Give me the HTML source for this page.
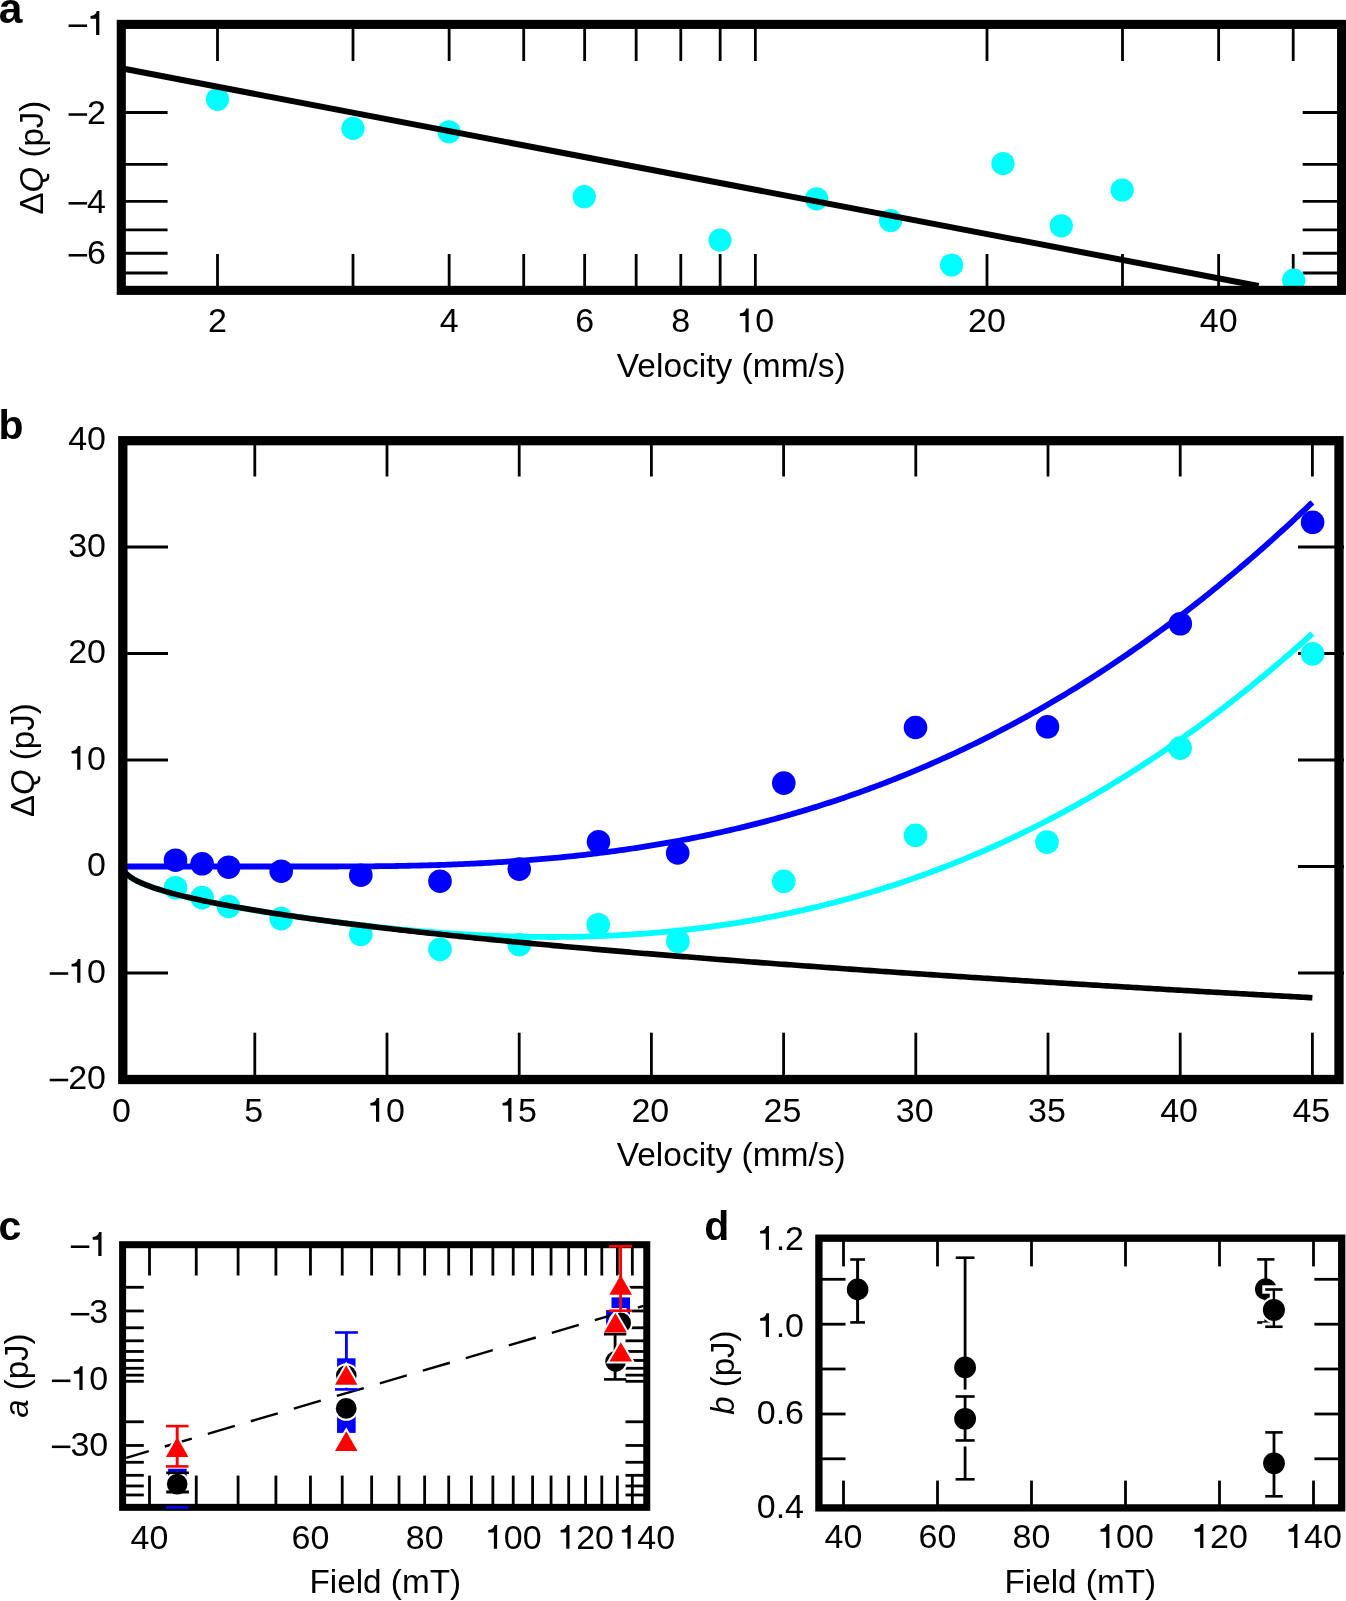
<!DOCTYPE html>
<html><head><meta charset="utf-8"><style>
html,body{margin:0;padding:0;background:#fff;}
svg{display:block;}
text{font-family:"Liberation Sans",sans-serif;fill:#000;filter:grayscale(1);}
</style></head><body>
<svg width="1346" height="1601" viewBox="0 0 1346 1601">
<rect width="1346" height="1601" fill="#fff"/>
<line x1="217.5" y1="24.4" x2="217.5" y2="61" stroke="#000" stroke-width="2.8"/>
<line x1="217.5" y1="254" x2="217.5" y2="290.35" stroke="#000" stroke-width="2.8"/>
<line x1="353" y1="24.4" x2="353" y2="61" stroke="#000" stroke-width="2.8"/>
<line x1="353" y1="254" x2="353" y2="290.35" stroke="#000" stroke-width="2.8"/>
<line x1="449.14" y1="24.4" x2="449.14" y2="61" stroke="#000" stroke-width="2.8"/>
<line x1="449.14" y1="254" x2="449.14" y2="290.35" stroke="#000" stroke-width="2.8"/>
<line x1="523.71" y1="24.4" x2="523.71" y2="61" stroke="#000" stroke-width="2.8"/>
<line x1="523.71" y1="254" x2="523.71" y2="290.35" stroke="#000" stroke-width="2.8"/>
<line x1="584.64" y1="24.4" x2="584.64" y2="61" stroke="#000" stroke-width="2.8"/>
<line x1="584.64" y1="254" x2="584.64" y2="290.35" stroke="#000" stroke-width="2.8"/>
<line x1="636.16" y1="24.4" x2="636.16" y2="61" stroke="#000" stroke-width="2.8"/>
<line x1="636.16" y1="254" x2="636.16" y2="290.35" stroke="#000" stroke-width="2.8"/>
<line x1="680.79" y1="24.4" x2="680.79" y2="61" stroke="#000" stroke-width="2.8"/>
<line x1="680.79" y1="254" x2="680.79" y2="290.35" stroke="#000" stroke-width="2.8"/>
<line x1="720.15" y1="24.4" x2="720.15" y2="61" stroke="#000" stroke-width="2.8"/>
<line x1="720.15" y1="254" x2="720.15" y2="290.35" stroke="#000" stroke-width="2.8"/>
<line x1="755.36" y1="24.4" x2="755.36" y2="61" stroke="#000" stroke-width="2.8"/>
<line x1="755.36" y1="254" x2="755.36" y2="290.35" stroke="#000" stroke-width="2.8"/>
<line x1="987" y1="24.4" x2="987" y2="61" stroke="#000" stroke-width="2.8"/>
<line x1="987" y1="254" x2="987" y2="290.35" stroke="#000" stroke-width="2.8"/>
<line x1="1122.5" y1="24.4" x2="1122.5" y2="61" stroke="#000" stroke-width="2.8"/>
<line x1="1122.5" y1="254" x2="1122.5" y2="290.35" stroke="#000" stroke-width="2.8"/>
<line x1="1218.64" y1="24.4" x2="1218.64" y2="61" stroke="#000" stroke-width="2.8"/>
<line x1="1218.64" y1="254" x2="1218.64" y2="290.35" stroke="#000" stroke-width="2.8"/>
<line x1="1293.21" y1="24.4" x2="1293.21" y2="61" stroke="#000" stroke-width="2.8"/>
<line x1="1293.21" y1="254" x2="1293.21" y2="290.35" stroke="#000" stroke-width="2.8"/>
<line x1="121.3" y1="112.5" x2="167.6" y2="112.5" stroke="#000" stroke-width="2.8"/>
<line x1="1302.7" y1="112.5" x2="1341.6" y2="112.5" stroke="#000" stroke-width="2.8"/>
<line x1="121.3" y1="164.45" x2="167.6" y2="164.45" stroke="#000" stroke-width="2.8"/>
<line x1="1302.7" y1="164.45" x2="1341.6" y2="164.45" stroke="#000" stroke-width="2.8"/>
<line x1="121.3" y1="201.3" x2="167.6" y2="201.3" stroke="#000" stroke-width="2.8"/>
<line x1="1302.7" y1="201.3" x2="1341.6" y2="201.3" stroke="#000" stroke-width="2.8"/>
<line x1="121.3" y1="229.89" x2="167.6" y2="229.89" stroke="#000" stroke-width="2.8"/>
<line x1="1302.7" y1="229.89" x2="1341.6" y2="229.89" stroke="#000" stroke-width="2.8"/>
<line x1="121.3" y1="253.25" x2="167.6" y2="253.25" stroke="#000" stroke-width="2.8"/>
<line x1="1302.7" y1="253.25" x2="1341.6" y2="253.25" stroke="#000" stroke-width="2.8"/>
<line x1="121.3" y1="273" x2="167.6" y2="273" stroke="#000" stroke-width="2.8"/>
<line x1="1302.7" y1="273" x2="1341.6" y2="273" stroke="#000" stroke-width="2.8"/>
<circle cx="217.5" cy="99.3" r="11.6" fill="#00ffff"/>
<circle cx="353" cy="128.4" r="11.6" fill="#00ffff"/>
<circle cx="449" cy="131.8" r="11.6" fill="#00ffff"/>
<circle cx="584.3" cy="196.7" r="11.6" fill="#00ffff"/>
<circle cx="720" cy="240.1" r="11.6" fill="#00ffff"/>
<circle cx="816.6" cy="198.8" r="11.6" fill="#00ffff"/>
<circle cx="890.6" cy="220.6" r="11.6" fill="#00ffff"/>
<circle cx="951.6" cy="265" r="11.6" fill="#00ffff"/>
<circle cx="1003" cy="163.5" r="11.6" fill="#00ffff"/>
<circle cx="1061.3" cy="225.8" r="11.6" fill="#00ffff"/>
<circle cx="1122.2" cy="190" r="11.6" fill="#00ffff"/>
<circle cx="1293.7" cy="280.2" r="11.6" fill="#00ffff"/>
<line x1="121.3" y1="68.3" x2="1258.6" y2="286" stroke="#000" stroke-width="6"/>
<rect x="121.3" y="24.4" width="1220.3" height="265.95" fill="none" stroke="#000" stroke-width="9.1"/>
<rect x="68.6" y="24.44" width="18.5" height="2.55" fill="#000"/>
<path d="M0.265 0L0.36 0L0.36 0.70L0.285 0.70C0.265 0.62 0.21 0.556 0.10 0.553L0.10 0.476L0.265 0.476Z" transform="translate(87.09 34.9) scale(34 -34)" fill="#000"/>
<rect x="68.6" y="113.25" width="18.5" height="2.55" fill="#000"/>
<text x="87.09" y="123.7" font-size="34">2</text>
<rect x="68.6" y="202.05" width="18.5" height="2.55" fill="#000"/>
<text x="87.09" y="212.5" font-size="34">4</text>
<rect x="68.6" y="254" width="18.5" height="2.55" fill="#000"/>
<text x="87.09" y="264.45" font-size="34">6</text>
<text x="208.05" y="332.3" font-size="34">2</text>
<text x="439.69" y="332.3" font-size="34">4</text>
<text x="575.19" y="332.3" font-size="34">6</text>
<text x="671.33" y="332.3" font-size="34">8</text>
<path d="M0.265 0L0.36 0L0.36 0.70L0.285 0.70C0.265 0.62 0.21 0.556 0.10 0.553L0.10 0.476L0.265 0.476Z" transform="translate(736.45 332.3) scale(34 -34)" fill="#000"/>
<text x="755.36" y="332.3" font-size="34">0</text>
<text x="968.09" y="332.3" font-size="34">20</text>
<text x="1199.73" y="332.3" font-size="34">40</text>
<text x="731.3" y="377.2" font-size="33.5" text-anchor="middle">Velocity (mm/s)</text>
<text transform="translate(43,157.6) rotate(-90)" font-size="33" text-anchor="middle">Δ<tspan font-style="italic">Q</tspan> (pJ)</text>
<text x="-1.3" y="22.7" font-size="42.5" font-weight="bold">a</text>
<line x1="254.8" y1="440.7" x2="254.8" y2="476.5" stroke="#000" stroke-width="2.8"/>
<line x1="254.8" y1="1032.7" x2="254.8" y2="1079.5" stroke="#000" stroke-width="2.8"/>
<line x1="387" y1="440.7" x2="387" y2="476.5" stroke="#000" stroke-width="2.8"/>
<line x1="387" y1="1032.7" x2="387" y2="1079.5" stroke="#000" stroke-width="2.8"/>
<line x1="519.2" y1="440.7" x2="519.2" y2="476.5" stroke="#000" stroke-width="2.8"/>
<line x1="519.2" y1="1032.7" x2="519.2" y2="1079.5" stroke="#000" stroke-width="2.8"/>
<line x1="651.4" y1="440.7" x2="651.4" y2="476.5" stroke="#000" stroke-width="2.8"/>
<line x1="651.4" y1="1032.7" x2="651.4" y2="1079.5" stroke="#000" stroke-width="2.8"/>
<line x1="783.6" y1="440.7" x2="783.6" y2="476.5" stroke="#000" stroke-width="2.8"/>
<line x1="783.6" y1="1032.7" x2="783.6" y2="1079.5" stroke="#000" stroke-width="2.8"/>
<line x1="915.8" y1="440.7" x2="915.8" y2="476.5" stroke="#000" stroke-width="2.8"/>
<line x1="915.8" y1="1032.7" x2="915.8" y2="1079.5" stroke="#000" stroke-width="2.8"/>
<line x1="1048" y1="440.7" x2="1048" y2="476.5" stroke="#000" stroke-width="2.8"/>
<line x1="1048" y1="1032.7" x2="1048" y2="1079.5" stroke="#000" stroke-width="2.8"/>
<line x1="1180.2" y1="440.7" x2="1180.2" y2="476.5" stroke="#000" stroke-width="2.8"/>
<line x1="1180.2" y1="1032.7" x2="1180.2" y2="1079.5" stroke="#000" stroke-width="2.8"/>
<line x1="1312.4" y1="440.7" x2="1312.4" y2="476.5" stroke="#000" stroke-width="2.8"/>
<line x1="1312.4" y1="1032.7" x2="1312.4" y2="1079.5" stroke="#000" stroke-width="2.8"/>
<line x1="122.8" y1="547" x2="168" y2="547" stroke="#000" stroke-width="2.8"/>
<line x1="1298" y1="547" x2="1344" y2="547" stroke="#000" stroke-width="2.8"/>
<line x1="122.8" y1="653.5" x2="168" y2="653.5" stroke="#000" stroke-width="2.8"/>
<line x1="1298" y1="653.5" x2="1344" y2="653.5" stroke="#000" stroke-width="2.8"/>
<line x1="122.8" y1="760" x2="168" y2="760" stroke="#000" stroke-width="2.8"/>
<line x1="1298" y1="760" x2="1344" y2="760" stroke="#000" stroke-width="2.8"/>
<line x1="122.8" y1="866.5" x2="168" y2="866.5" stroke="#000" stroke-width="2.8"/>
<line x1="1298" y1="866.5" x2="1344" y2="866.5" stroke="#000" stroke-width="2.8"/>
<line x1="122.8" y1="973" x2="168" y2="973" stroke="#000" stroke-width="2.8"/>
<line x1="1298" y1="973" x2="1344" y2="973" stroke="#000" stroke-width="2.8"/>
<path d="M122.6 866.5 L125.58 873.07 L128.56 875.79 L131.55 877.88 L134.53 879.64 L137.51 881.19 L140.49 882.59 L143.47 883.88 L146.46 885.08 L149.44 886.21 L152.42 887.28 L155.4 888.29 L158.38 889.26 L161.37 890.19 L164.35 891.08 L167.33 891.95 L170.31 892.78 L173.29 893.59 L176.28 894.37 L179.26 895.14 L182.24 895.88 L185.22 896.61 L188.2 897.32 L191.18 898.01 L194.17 898.69 L197.15 899.35 L200.13 900 L203.11 900.64 L206.09 901.27 L209.08 901.88 L212.06 902.49 L215.04 903.08 L218.02 903.67 L221 904.24 L223.99 904.81 L226.97 905.37 L229.95 905.92 L232.93 906.46 L235.91 907 L238.9 907.53 L241.88 908.05 L244.86 908.57 L247.84 909.08 L250.82 909.58 L253.81 910.08 L256.79 910.57 L259.77 911.06 L262.75 911.54 L265.73 912.02 L268.72 912.49 L271.7 912.96 L274.68 913.42 L277.66 913.88 L280.64 914.33 L283.63 914.78 L286.61 915.23 L289.59 915.67 L292.57 916.1 L295.55 916.54 L298.54 916.97 L301.52 917.39 L304.5 917.81 L307.48 918.23 L310.46 918.65 L313.45 919.06 L316.43 919.47 L319.41 919.88 L322.39 920.28 L325.37 920.68 L328.35 921.07 L331.34 921.46 L334.32 921.85 L337.3 922.23 L340.28 922.61 L343.26 922.99 L346.25 923.36 L349.23 923.72 L352.21 924.09 L355.19 924.44 L358.17 924.8 L361.16 925.15 L364.14 925.49 L367.12 925.83 L370.1 926.17 L373.08 926.5 L376.07 926.83 L379.05 927.15 L382.03 927.47 L385.01 927.79 L387.99 928.1 L390.98 928.4 L393.96 928.7 L396.94 929 L399.92 929.29 L402.9 929.57 L405.89 929.86 L408.87 930.13 L411.85 930.4 L414.83 930.67 L417.81 930.93 L420.8 931.19 L423.78 931.44 L426.76 931.69 L429.74 931.93 L432.72 932.16 L435.71 932.39 L438.69 932.62 L441.67 932.84 L444.65 933.05 L447.63 933.26 L450.62 933.47 L453.6 933.67 L456.58 933.86 L459.56 934.05 L462.54 934.23 L465.52 934.41 L468.51 934.58 L471.49 934.75 L474.47 934.91 L477.45 935.06 L480.43 935.21 L483.42 935.35 L486.4 935.49 L489.38 935.62 L492.36 935.75 L495.34 935.87 L498.33 935.98 L501.31 936.09 L504.29 936.19 L507.27 936.29 L510.25 936.38 L513.24 936.46 L516.22 936.54 L519.2 936.61 L522.18 936.68 L525.16 936.74 L528.15 936.79 L531.13 936.84 L534.11 936.88 L537.09 936.91 L540.07 936.94 L543.06 936.96 L546.04 936.97 L549.02 936.98 L552 936.98 L554.98 936.98 L557.97 936.96 L560.95 936.95 L563.93 936.92 L566.91 936.89 L569.89 936.85 L572.88 936.8 L575.86 936.75 L578.84 936.69 L581.82 936.63 L584.8 936.55 L587.78 936.47 L590.77 936.39 L593.75 936.29 L596.73 936.19 L599.71 936.08 L602.69 935.97 L605.68 935.85 L608.66 935.72 L611.64 935.58 L614.62 935.43 L617.6 935.28 L620.59 935.12 L623.57 934.96 L626.55 934.78 L629.53 934.6 L632.51 934.41 L635.5 934.22 L638.48 934.01 L641.46 933.8 L644.44 933.58 L647.42 933.36 L650.41 933.12 L653.39 932.88 L656.37 932.63 L659.35 932.37 L662.33 932.11 L665.32 931.84 L668.3 931.55 L671.28 931.27 L674.26 930.97 L677.24 930.66 L680.23 930.35 L683.21 930.03 L686.19 929.7 L689.17 929.36 L692.15 929.02 L695.14 928.67 L698.12 928.3 L701.1 927.93 L704.08 927.56 L707.06 927.17 L710.05 926.77 L713.03 926.37 L716.01 925.96 L718.99 925.54 L721.97 925.11 L724.95 924.67 L727.94 924.23 L730.92 923.77 L733.9 923.31 L736.88 922.84 L739.86 922.36 L742.85 921.87 L745.83 921.37 L748.81 920.87 L751.79 920.35 L754.77 919.83 L757.76 919.3 L760.74 918.76 L763.72 918.21 L766.7 917.65 L769.68 917.08 L772.67 916.5 L775.65 915.91 L778.63 915.32 L781.61 914.71 L784.59 914.1 L787.58 913.48 L790.56 912.84 L793.54 912.2 L796.52 911.55 L799.5 910.89 L802.49 910.22 L805.47 909.54 L808.45 908.86 L811.43 908.16 L814.41 907.45 L817.4 906.74 L820.38 906.01 L823.36 905.27 L826.34 904.53 L829.32 903.78 L832.31 903.01 L835.29 902.24 L838.27 901.45 L841.25 900.66 L844.23 899.86 L847.22 899.04 L850.2 898.22 L853.18 897.39 L856.16 896.55 L859.14 895.69 L862.12 894.83 L865.11 893.96 L868.09 893.08 L871.07 892.18 L874.05 891.28 L877.03 890.37 L880.02 889.45 L883 888.51 L885.98 887.57 L888.96 886.62 L891.94 885.65 L894.93 884.68 L897.91 883.7 L900.89 882.7 L903.87 881.7 L906.85 880.68 L909.84 879.66 L912.82 878.62 L915.8 877.57 L918.78 876.52 L921.76 875.45 L924.75 874.37 L927.73 873.28 L930.71 872.18 L933.69 871.07 L936.67 869.95 L939.66 868.82 L942.64 867.68 L945.62 866.53 L948.6 865.36 L951.58 864.19 L954.57 863 L957.55 861.81 L960.53 860.6 L963.51 859.38 L966.49 858.15 L969.48 856.91 L972.46 855.66 L975.44 854.4 L978.42 853.13 L981.4 851.84 L984.38 850.55 L987.37 849.24 L990.35 847.92 L993.33 846.59 L996.31 845.25 L999.29 843.9 L1002.28 842.54 L1005.26 841.16 L1008.24 839.78 L1011.22 838.38 L1014.2 836.97 L1017.19 835.55 L1020.17 834.12 L1023.15 832.67 L1026.13 831.22 L1029.11 829.75 L1032.1 828.27 L1035.08 826.78 L1038.06 825.28 L1041.04 823.77 L1044.02 822.25 L1047.01 820.71 L1049.99 819.16 L1052.97 817.6 L1055.95 816.03 L1058.93 814.44 L1061.92 812.85 L1064.9 811.24 L1067.88 809.62 L1070.86 807.99 L1073.84 806.35 L1076.83 804.69 L1079.81 803.02 L1082.79 801.34 L1085.77 799.65 L1088.75 797.95 L1091.74 796.23 L1094.72 794.5 L1097.7 792.76 L1100.68 791.01 L1103.66 789.24 L1106.65 787.47 L1109.63 785.68 L1112.61 783.88 L1115.59 782.06 L1118.57 780.23 L1121.55 778.39 L1124.54 776.54 L1127.52 774.68 L1130.5 772.8 L1133.48 770.91 L1136.46 769.01 L1139.45 767.1 L1142.43 765.17 L1145.41 763.23 L1148.39 761.28 L1151.37 759.31 L1154.36 757.33 L1157.34 755.34 L1160.32 753.34 L1163.3 751.32 L1166.28 749.29 L1169.27 747.25 L1172.25 745.19 L1175.23 743.13 L1178.21 741.05 L1181.19 738.95 L1184.18 736.84 L1187.16 734.72 L1190.14 732.59 L1193.12 730.44 L1196.1 728.29 L1199.09 726.11 L1202.07 723.93 L1205.05 721.73 L1208.03 719.52 L1211.01 717.29 L1214 715.05 L1216.98 712.8 L1219.96 710.54 L1222.94 708.26 L1225.92 705.96 L1228.91 703.66 L1231.89 701.34 L1234.87 699.01 L1237.85 696.66 L1240.83 694.3 L1243.82 691.93 L1246.8 689.54 L1249.78 687.14 L1252.76 684.73 L1255.74 682.3 L1258.72 679.86 L1261.71 677.41 L1264.69 674.94 L1267.67 672.46 L1270.65 669.96 L1273.63 667.45 L1276.62 664.93 L1279.6 662.39 L1282.58 659.84 L1285.56 657.27 L1288.54 654.69 L1291.53 652.1 L1294.51 649.49 L1297.49 646.87 L1300.47 644.24 L1303.45 641.59 L1306.44 638.93 L1309.42 636.25 L1312.4 633.56" fill="none" stroke="#00ffff" stroke-width="5.8" stroke-linejoin="round"/>
<circle cx="175.5" cy="887.7" r="11.8" fill="#00ffff"/>
<circle cx="202.1" cy="897.6" r="11.8" fill="#00ffff"/>
<circle cx="228.6" cy="906.5" r="11.8" fill="#00ffff"/>
<circle cx="281.2" cy="918.6" r="11.8" fill="#00ffff"/>
<circle cx="360.8" cy="934.3" r="11.8" fill="#00ffff"/>
<circle cx="440" cy="949.4" r="11.8" fill="#00ffff"/>
<circle cx="519.2" cy="944.7" r="11.8" fill="#00ffff"/>
<circle cx="598.2" cy="924.7" r="11.8" fill="#00ffff"/>
<circle cx="677.9" cy="941.4" r="11.8" fill="#00ffff"/>
<circle cx="783.8" cy="881.3" r="11.8" fill="#00ffff"/>
<circle cx="915.5" cy="835.3" r="11.8" fill="#00ffff"/>
<circle cx="1047" cy="842.1" r="11.8" fill="#00ffff"/>
<circle cx="1180.2" cy="748.1" r="11.8" fill="#00ffff"/>
<circle cx="1312.6" cy="653.9" r="11.8" fill="#00ffff"/>
<path d="M122.6 866.5 L125.58 873.07 L128.56 875.79 L131.55 877.88 L134.53 879.64 L137.51 881.19 L140.49 882.59 L143.47 883.88 L146.46 885.08 L149.44 886.21 L152.42 887.28 L155.4 888.29 L158.38 889.26 L161.37 890.19 L164.35 891.08 L167.33 891.95 L170.31 892.78 L173.29 893.59 L176.28 894.37 L179.26 895.14 L182.24 895.88 L185.22 896.61 L188.2 897.32 L191.18 898.01 L194.17 898.69 L197.15 899.35 L200.13 900 L203.11 900.64 L206.09 901.27 L209.08 901.88 L212.06 902.49 L215.04 903.08 L218.02 903.67 L221 904.24 L223.99 904.81 L226.97 905.37 L229.95 905.92 L232.93 906.46 L235.91 907 L238.9 907.53 L241.88 908.05 L244.86 908.57 L247.84 909.08 L250.82 909.58 L253.81 910.08 L256.79 910.57 L259.77 911.06 L262.75 911.54 L265.73 912.02 L268.72 912.49 L271.7 912.96 L274.68 913.42 L277.66 913.88 L280.64 914.33 L283.63 914.78 L286.61 915.23 L289.59 915.67 L292.57 916.1 L295.55 916.54 L298.54 916.97 L301.52 917.39 L304.5 917.81 L307.48 918.23 L310.46 918.65 L313.45 919.06 L316.43 919.47 L319.41 919.88 L322.39 920.28 L325.37 920.68 L328.35 921.08 L331.34 921.47 L334.32 921.86 L337.3 922.25 L340.28 922.64 L343.26 923.02 L346.25 923.4 L349.23 923.78 L352.21 924.15 L355.19 924.53 L358.17 924.9 L361.16 925.27 L364.14 925.63 L367.12 926 L370.1 926.36 L373.08 926.72 L376.07 927.07 L379.05 927.43 L382.03 927.78 L385.01 928.13 L387.99 928.48 L390.98 928.83 L393.96 929.18 L396.94 929.52 L399.92 929.86 L402.9 930.2 L405.89 930.54 L408.87 930.87 L411.85 931.21 L414.83 931.54 L417.81 931.87 L420.8 932.2 L423.78 932.53 L426.76 932.86 L429.74 933.18 L432.72 933.5 L435.71 933.82 L438.69 934.14 L441.67 934.46 L444.65 934.78 L447.63 935.09 L450.62 935.41 L453.6 935.72 L456.58 936.03 L459.56 936.34 L462.54 936.65 L465.52 936.96 L468.51 937.26 L471.49 937.57 L474.47 937.87 L477.45 938.17 L480.43 938.47 L483.42 938.77 L486.4 939.07 L489.38 939.37 L492.36 939.66 L495.34 939.96 L498.33 940.25 L501.31 940.54 L504.29 940.83 L507.27 941.12 L510.25 941.41 L513.24 941.7 L516.22 941.99 L519.2 942.27 L522.18 942.56 L525.16 942.84 L528.15 943.12 L531.13 943.4 L534.11 943.68 L537.09 943.96 L540.07 944.24 L543.06 944.52 L546.04 944.79 L549.02 945.07 L552 945.34 L554.98 945.62 L557.97 945.89 L560.95 946.16 L563.93 946.43 L566.91 946.7 L569.89 946.97 L572.88 947.24 L575.86 947.5 L578.84 947.77 L581.82 948.03 L584.8 948.3 L587.78 948.56 L590.77 948.82 L593.75 949.09 L596.73 949.35 L599.71 949.61 L602.69 949.87 L605.68 950.12 L608.66 950.38 L611.64 950.64 L614.62 950.9 L617.6 951.15 L620.59 951.41 L623.57 951.66 L626.55 951.91 L629.53 952.16 L632.51 952.42 L635.5 952.67 L638.48 952.92 L641.46 953.17 L644.44 953.42 L647.42 953.66 L650.41 953.91 L653.39 954.16 L656.37 954.4 L659.35 954.65 L662.33 954.89 L665.32 955.14 L668.3 955.38 L671.28 955.62 L674.26 955.86 L677.24 956.11 L680.23 956.35 L683.21 956.59 L686.19 956.83 L689.17 957.06 L692.15 957.3 L695.14 957.54 L698.12 957.78 L701.1 958.01 L704.08 958.25 L707.06 958.48 L710.05 958.72 L713.03 958.95 L716.01 959.18 L718.99 959.42 L721.97 959.65 L724.95 959.88 L727.94 960.11 L730.92 960.34 L733.9 960.57 L736.88 960.8 L739.86 961.03 L742.85 961.26 L745.83 961.48 L748.81 961.71 L751.79 961.94 L754.77 962.16 L757.76 962.39 L760.74 962.61 L763.72 962.84 L766.7 963.06 L769.68 963.29 L772.67 963.51 L775.65 963.73 L778.63 963.95 L781.61 964.17 L784.59 964.39 L787.58 964.61 L790.56 964.83 L793.54 965.05 L796.52 965.27 L799.5 965.49 L802.49 965.71 L805.47 965.93 L808.45 966.14 L811.43 966.36 L814.41 966.57 L817.4 966.79 L820.38 967 L823.36 967.22 L826.34 967.43 L829.32 967.65 L832.31 967.86 L835.29 968.07 L838.27 968.29 L841.25 968.5 L844.23 968.71 L847.22 968.92 L850.2 969.13 L853.18 969.34 L856.16 969.55 L859.14 969.76 L862.12 969.97 L865.11 970.18 L868.09 970.38 L871.07 970.59 L874.05 970.8 L877.03 971.01 L880.02 971.21 L883 971.42 L885.98 971.62 L888.96 971.83 L891.94 972.03 L894.93 972.24 L897.91 972.44 L900.89 972.64 L903.87 972.85 L906.85 973.05 L909.84 973.25 L912.82 973.46 L915.8 973.66 L918.78 973.86 L921.76 974.06 L924.75 974.26 L927.73 974.46 L930.71 974.66 L933.69 974.86 L936.67 975.06 L939.66 975.26 L942.64 975.45 L945.62 975.65 L948.6 975.85 L951.58 976.05 L954.57 976.24 L957.55 976.44 L960.53 976.64 L963.51 976.83 L966.49 977.03 L969.48 977.22 L972.46 977.42 L975.44 977.61 L978.42 977.81 L981.4 978 L984.38 978.19 L987.37 978.39 L990.35 978.58 L993.33 978.77 L996.31 978.96 L999.29 979.16 L1002.28 979.35 L1005.26 979.54 L1008.24 979.73 L1011.22 979.92 L1014.2 980.11 L1017.19 980.3 L1020.17 980.49 L1023.15 980.68 L1026.13 980.87 L1029.11 981.06 L1032.1 981.24 L1035.08 981.43 L1038.06 981.62 L1041.04 981.81 L1044.02 981.99 L1047.01 982.18 L1049.99 982.37 L1052.97 982.55 L1055.95 982.74 L1058.93 982.92 L1061.92 983.11 L1064.9 983.29 L1067.88 983.48 L1070.86 983.66 L1073.84 983.85 L1076.83 984.03 L1079.81 984.21 L1082.79 984.4 L1085.77 984.58 L1088.75 984.76 L1091.74 984.95 L1094.72 985.13 L1097.7 985.31 L1100.68 985.49 L1103.66 985.67 L1106.65 985.85 L1109.63 986.03 L1112.61 986.21 L1115.59 986.39 L1118.57 986.57 L1121.55 986.75 L1124.54 986.93 L1127.52 987.11 L1130.5 987.29 L1133.48 987.47 L1136.46 987.65 L1139.45 987.83 L1142.43 988 L1145.41 988.18 L1148.39 988.36 L1151.37 988.54 L1154.36 988.71 L1157.34 988.89 L1160.32 989.07 L1163.3 989.24 L1166.28 989.42 L1169.27 989.59 L1172.25 989.77 L1175.23 989.94 L1178.21 990.12 L1181.19 990.29 L1184.18 990.47 L1187.16 990.64 L1190.14 990.81 L1193.12 990.99 L1196.1 991.16 L1199.09 991.33 L1202.07 991.51 L1205.05 991.68 L1208.03 991.85 L1211.01 992.02 L1214 992.2 L1216.98 992.37 L1219.96 992.54 L1222.94 992.71 L1225.92 992.88 L1228.91 993.05 L1231.89 993.22 L1234.87 993.39 L1237.85 993.56 L1240.83 993.73 L1243.82 993.9 L1246.8 994.07 L1249.78 994.24 L1252.76 994.41 L1255.74 994.58 L1258.72 994.75 L1261.71 994.91 L1264.69 995.08 L1267.67 995.25 L1270.65 995.42 L1273.63 995.58 L1276.62 995.75 L1279.6 995.92 L1282.58 996.08 L1285.56 996.25 L1288.54 996.42 L1291.53 996.58 L1294.51 996.75 L1297.49 996.91 L1300.47 997.08 L1303.45 997.25 L1306.44 997.41 L1309.42 997.58 L1312.4 997.74" fill="none" stroke="#000" stroke-width="5.6" stroke-linejoin="round"/>
<circle cx="175.5" cy="860.2" r="11.8" fill="#0000ff"/>
<circle cx="202.1" cy="863.8" r="11.8" fill="#0000ff"/>
<circle cx="228.6" cy="867.2" r="11.8" fill="#0000ff"/>
<circle cx="281.2" cy="871.2" r="11.8" fill="#0000ff"/>
<circle cx="360.8" cy="875.2" r="11.8" fill="#0000ff"/>
<circle cx="440" cy="881.2" r="11.8" fill="#0000ff"/>
<circle cx="519.2" cy="869.1" r="11.8" fill="#0000ff"/>
<circle cx="598.5" cy="841.8" r="11.8" fill="#0000ff"/>
<circle cx="677.7" cy="853" r="11.8" fill="#0000ff"/>
<circle cx="783.8" cy="783.1" r="11.8" fill="#0000ff"/>
<circle cx="915.5" cy="727.5" r="11.8" fill="#0000ff"/>
<circle cx="1047.5" cy="726.8" r="11.8" fill="#0000ff"/>
<circle cx="1180.3" cy="623.8" r="11.8" fill="#0000ff"/>
<circle cx="1312.6" cy="522.3" r="11.8" fill="#0000ff"/>
<path d="M122.6 866.5 L125.58 866.5 L128.56 866.5 L131.55 866.5 L134.53 866.5 L137.51 866.5 L140.49 866.5 L143.47 866.5 L146.46 866.5 L149.44 866.5 L152.42 866.5 L155.4 866.5 L158.38 866.5 L161.37 866.5 L164.35 866.5 L167.33 866.5 L170.31 866.5 L173.29 866.5 L176.28 866.5 L179.26 866.5 L182.24 866.5 L185.22 866.5 L188.2 866.5 L191.18 866.5 L194.17 866.5 L197.15 866.5 L200.13 866.5 L203.11 866.5 L206.09 866.5 L209.08 866.5 L212.06 866.5 L215.04 866.5 L218.02 866.5 L221 866.5 L223.99 866.5 L226.97 866.5 L229.95 866.5 L232.93 866.5 L235.91 866.5 L238.9 866.5 L241.88 866.5 L244.86 866.5 L247.84 866.5 L250.82 866.5 L253.81 866.5 L256.79 866.5 L259.77 866.5 L262.75 866.5 L265.73 866.5 L268.72 866.5 L271.7 866.5 L274.68 866.5 L277.66 866.5 L280.64 866.5 L283.63 866.5 L286.61 866.5 L289.59 866.5 L292.57 866.5 L295.55 866.5 L298.54 866.5 L301.52 866.5 L304.5 866.5 L307.48 866.5 L310.46 866.5 L313.45 866.5 L316.43 866.5 L319.41 866.5 L322.39 866.5 L325.37 866.5 L328.35 866.49 L331.34 866.49 L334.32 866.49 L337.3 866.48 L340.28 866.47 L343.26 866.47 L346.25 866.46 L349.23 866.45 L352.21 866.43 L355.19 866.42 L358.17 866.4 L361.16 866.38 L364.14 866.36 L367.12 866.34 L370.1 866.31 L373.08 866.29 L376.07 866.26 L379.05 866.22 L382.03 866.19 L385.01 866.15 L387.99 866.11 L390.98 866.07 L393.96 866.03 L396.94 865.98 L399.92 865.93 L402.9 865.87 L405.89 865.82 L408.87 865.76 L411.85 865.69 L414.83 865.63 L417.81 865.56 L420.8 865.49 L423.78 865.41 L426.76 865.33 L429.74 865.25 L432.72 865.16 L435.71 865.07 L438.69 864.98 L441.67 864.88 L444.65 864.78 L447.63 864.67 L450.62 864.56 L453.6 864.45 L456.58 864.33 L459.56 864.21 L462.54 864.08 L465.52 863.95 L468.51 863.82 L471.49 863.68 L474.47 863.54 L477.45 863.39 L480.43 863.24 L483.42 863.08 L486.4 862.92 L489.38 862.76 L492.36 862.59 L495.34 862.41 L498.33 862.23 L501.31 862.05 L504.29 861.86 L507.27 861.67 L510.25 861.47 L513.24 861.26 L516.22 861.06 L519.2 860.84 L522.18 860.62 L525.16 860.4 L528.15 860.17 L531.13 859.93 L534.11 859.69 L537.09 859.45 L540.07 859.2 L543.06 858.94 L546.04 858.68 L549.02 858.41 L552 858.14 L554.98 857.86 L557.97 857.58 L560.95 857.29 L563.93 856.99 L566.91 856.69 L569.89 856.38 L572.88 856.07 L575.86 855.75 L578.84 855.42 L581.82 855.09 L584.8 854.76 L587.78 854.41 L590.77 854.06 L593.75 853.71 L596.73 853.34 L599.71 852.98 L602.69 852.6 L605.68 852.22 L608.66 851.83 L611.64 851.44 L614.62 851.04 L617.6 850.63 L620.59 850.22 L623.57 849.8 L626.55 849.37 L629.53 848.94 L632.51 848.5 L635.5 848.05 L638.48 847.6 L641.46 847.14 L644.44 846.67 L647.42 846.19 L650.41 845.71 L653.39 845.22 L656.37 844.73 L659.35 844.23 L662.33 843.72 L665.32 843.2 L668.3 842.67 L671.28 842.14 L674.26 841.6 L677.24 841.06 L680.23 840.51 L683.21 839.94 L686.19 839.38 L689.17 838.8 L692.15 838.22 L695.14 837.63 L698.12 837.03 L701.1 836.42 L704.08 835.81 L707.06 835.19 L710.05 834.56 L713.03 833.92 L716.01 833.28 L718.99 832.62 L721.97 831.96 L724.95 831.29 L727.94 830.62 L730.92 829.93 L733.9 829.24 L736.88 828.54 L739.86 827.83 L742.85 827.12 L745.83 826.39 L748.81 825.66 L751.79 824.92 L754.77 824.17 L757.76 823.41 L760.74 822.64 L763.72 821.87 L766.7 821.08 L769.68 820.29 L772.67 819.49 L775.65 818.68 L778.63 817.87 L781.61 817.04 L784.59 816.21 L787.58 815.36 L790.56 814.51 L793.54 813.65 L796.52 812.78 L799.5 811.9 L802.49 811.02 L805.47 810.12 L808.45 809.21 L811.43 808.3 L814.41 807.38 L817.4 806.45 L820.38 805.51 L823.36 804.56 L826.34 803.6 L829.32 802.63 L832.31 801.65 L835.29 800.66 L838.27 799.67 L841.25 798.66 L844.23 797.65 L847.22 796.62 L850.2 795.59 L853.18 794.55 L856.16 793.5 L859.14 792.43 L862.12 791.36 L865.11 790.28 L868.09 789.19 L871.07 788.09 L874.05 786.98 L877.03 785.86 L880.02 784.74 L883 783.6 L885.98 782.45 L888.96 781.29 L891.94 780.12 L894.93 778.94 L897.91 777.76 L900.89 776.56 L903.87 775.35 L906.85 774.13 L909.84 772.9 L912.82 771.67 L915.8 770.42 L918.78 769.16 L921.76 767.89 L924.75 766.61 L927.73 765.32 L930.71 764.03 L933.69 762.72 L936.67 761.4 L939.66 760.07 L942.64 758.73 L945.62 757.37 L948.6 756.01 L951.58 754.64 L954.57 753.26 L957.55 751.87 L960.53 750.46 L963.51 749.05 L966.49 747.62 L969.48 746.19 L972.46 744.74 L975.44 743.29 L978.42 741.82 L981.4 740.34 L984.38 738.85 L987.37 737.35 L990.35 735.84 L993.33 734.32 L996.31 732.79 L999.29 731.24 L1002.28 729.69 L1005.26 728.12 L1008.24 726.55 L1011.22 724.96 L1014.2 723.36 L1017.19 721.75 L1020.17 720.13 L1023.15 718.5 L1026.13 716.85 L1029.11 715.2 L1032.1 713.53 L1035.08 711.85 L1038.06 710.16 L1041.04 708.46 L1044.02 706.75 L1047.01 705.03 L1049.99 703.29 L1052.97 701.55 L1055.95 699.79 L1058.93 698.02 L1061.92 696.24 L1064.9 694.45 L1067.88 692.64 L1070.86 690.83 L1073.84 689 L1076.83 687.16 L1079.81 685.31 L1082.79 683.45 L1085.77 681.57 L1088.75 679.68 L1091.74 677.79 L1094.72 675.88 L1097.7 673.95 L1100.68 672.02 L1103.66 670.07 L1106.65 668.11 L1109.63 666.14 L1112.61 664.16 L1115.59 662.17 L1118.57 660.16 L1121.55 658.14 L1124.54 656.11 L1127.52 654.07 L1130.5 652.01 L1133.48 649.94 L1136.46 647.86 L1139.45 645.77 L1142.43 643.66 L1145.41 641.55 L1148.39 639.42 L1151.37 637.27 L1154.36 635.12 L1157.34 632.95 L1160.32 630.77 L1163.3 628.58 L1166.28 626.37 L1169.27 624.16 L1172.25 621.93 L1175.23 619.68 L1178.21 617.43 L1181.19 615.16 L1184.18 612.88 L1187.16 610.58 L1190.14 608.28 L1193.12 605.96 L1196.1 603.62 L1199.09 601.28 L1202.07 598.92 L1205.05 596.55 L1208.03 594.16 L1211.01 591.77 L1214 589.36 L1216.98 586.93 L1219.96 584.5 L1222.94 582.05 L1225.92 579.58 L1228.91 577.11 L1231.89 574.62 L1234.87 572.12 L1237.85 569.6 L1240.83 567.07 L1243.82 564.53 L1246.8 561.97 L1249.78 559.4 L1252.76 556.82 L1255.74 554.23 L1258.72 551.62 L1261.71 548.99 L1264.69 546.36 L1267.67 543.71 L1270.65 541.04 L1273.63 538.37 L1276.62 535.68 L1279.6 532.97 L1282.58 530.25 L1285.56 527.52 L1288.54 524.78 L1291.53 522.02 L1294.51 519.25 L1297.49 516.46 L1300.47 513.66 L1303.45 510.84 L1306.44 508.02 L1309.42 505.17 L1312.4 502.32" fill="none" stroke="#0000ff" stroke-width="5.8" stroke-linejoin="round"/>
<rect x="122.8" y="440.7" width="1216.2" height="638.8" fill="none" stroke="#000" stroke-width="9.3"/>
<text x="68.18" y="450.2" font-size="34">40</text>
<text x="68.18" y="556.7" font-size="34">30</text>
<text x="68.18" y="663.2" font-size="34">20</text>
<path d="M0.265 0L0.36 0L0.36 0.70L0.285 0.70C0.265 0.62 0.21 0.556 0.10 0.553L0.10 0.476L0.265 0.476Z" transform="translate(68.18 769.7) scale(34 -34)" fill="#000"/>
<text x="87.09" y="769.7" font-size="34">0</text>
<text x="87.09" y="876.2" font-size="34">0</text>
<rect x="49.69" y="972.25" width="18.5" height="2.55" fill="#000"/>
<path d="M0.265 0L0.36 0L0.36 0.70L0.285 0.70C0.265 0.62 0.21 0.556 0.10 0.553L0.10 0.476L0.265 0.476Z" transform="translate(68.18 982.7) scale(34 -34)" fill="#000"/>
<text x="87.09" y="982.7" font-size="34">0</text>
<rect x="49.69" y="1078.74" width="18.5" height="2.55" fill="#000"/>
<text x="68.18" y="1089.2" font-size="34">20</text>
<text x="112.05" y="1121.8" font-size="34">0</text>
<text x="244.25" y="1121.8" font-size="34">5</text>
<path d="M0.265 0L0.36 0L0.36 0.70L0.285 0.70C0.265 0.62 0.21 0.556 0.10 0.553L0.10 0.476L0.265 0.476Z" transform="translate(366.99 1121.8) scale(34 -34)" fill="#000"/>
<text x="385.9" y="1121.8" font-size="34">0</text>
<path d="M0.265 0L0.36 0L0.36 0.70L0.285 0.70C0.265 0.62 0.21 0.556 0.10 0.553L0.10 0.476L0.265 0.476Z" transform="translate(499.19 1121.8) scale(34 -34)" fill="#000"/>
<text x="518.1" y="1121.8" font-size="34">5</text>
<text x="631.39" y="1121.8" font-size="34">20</text>
<text x="763.59" y="1121.8" font-size="34">25</text>
<text x="895.79" y="1121.8" font-size="34">30</text>
<text x="1027.99" y="1121.8" font-size="34">35</text>
<text x="1160.19" y="1121.8" font-size="34">40</text>
<text x="1292.39" y="1121.8" font-size="34">45</text>
<text x="731.2" y="1166.2" font-size="33.5" text-anchor="middle">Velocity (mm/s)</text>
<text transform="translate(34,760.2) rotate(-90)" font-size="33" text-anchor="middle">Δ<tspan font-style="italic">Q</tspan> (pJ)</text>
<text x="-1.5" y="439" font-size="41" font-weight="bold">b</text>
<rect x="122.6" y="1244.7" width="524.15" height="262.65" fill="none" stroke="#000" stroke-width="7"/>
<line x1="149.5" y1="1244.7" x2="149.5" y2="1275.5" stroke="#000" stroke-width="2.8"/>
<line x1="149.5" y1="1475.6" x2="149.5" y2="1507.35" stroke="#000" stroke-width="2.8"/>
<line x1="196.25" y1="1244.7" x2="196.25" y2="1275.5" stroke="#000" stroke-width="2.8"/>
<line x1="196.25" y1="1475.6" x2="196.25" y2="1507.35" stroke="#000" stroke-width="2.8"/>
<line x1="238.08" y1="1244.7" x2="238.08" y2="1275.5" stroke="#000" stroke-width="2.8"/>
<line x1="238.08" y1="1475.6" x2="238.08" y2="1507.35" stroke="#000" stroke-width="2.8"/>
<line x1="275.91" y1="1244.7" x2="275.91" y2="1275.5" stroke="#000" stroke-width="2.8"/>
<line x1="275.91" y1="1475.6" x2="275.91" y2="1507.35" stroke="#000" stroke-width="2.8"/>
<line x1="310.45" y1="1244.7" x2="310.45" y2="1275.5" stroke="#000" stroke-width="2.8"/>
<line x1="310.45" y1="1475.6" x2="310.45" y2="1507.35" stroke="#000" stroke-width="2.8"/>
<line x1="342.22" y1="1244.7" x2="342.22" y2="1275.5" stroke="#000" stroke-width="2.8"/>
<line x1="342.22" y1="1475.6" x2="342.22" y2="1507.35" stroke="#000" stroke-width="2.8"/>
<line x1="371.64" y1="1244.7" x2="371.64" y2="1275.5" stroke="#000" stroke-width="2.8"/>
<line x1="371.64" y1="1475.6" x2="371.64" y2="1507.35" stroke="#000" stroke-width="2.8"/>
<line x1="399.02" y1="1244.7" x2="399.02" y2="1275.5" stroke="#000" stroke-width="2.8"/>
<line x1="399.02" y1="1475.6" x2="399.02" y2="1507.35" stroke="#000" stroke-width="2.8"/>
<line x1="424.64" y1="1244.7" x2="424.64" y2="1275.5" stroke="#000" stroke-width="2.8"/>
<line x1="424.64" y1="1475.6" x2="424.64" y2="1507.35" stroke="#000" stroke-width="2.8"/>
<line x1="448.71" y1="1244.7" x2="448.71" y2="1275.5" stroke="#000" stroke-width="2.8"/>
<line x1="448.71" y1="1475.6" x2="448.71" y2="1507.35" stroke="#000" stroke-width="2.8"/>
<line x1="471.39" y1="1244.7" x2="471.39" y2="1275.5" stroke="#000" stroke-width="2.8"/>
<line x1="471.39" y1="1475.6" x2="471.39" y2="1507.35" stroke="#000" stroke-width="2.8"/>
<line x1="492.86" y1="1244.7" x2="492.86" y2="1275.5" stroke="#000" stroke-width="2.8"/>
<line x1="492.86" y1="1475.6" x2="492.86" y2="1507.35" stroke="#000" stroke-width="2.8"/>
<line x1="513.22" y1="1244.7" x2="513.22" y2="1275.5" stroke="#000" stroke-width="2.8"/>
<line x1="513.22" y1="1475.6" x2="513.22" y2="1507.35" stroke="#000" stroke-width="2.8"/>
<line x1="532.58" y1="1244.7" x2="532.58" y2="1275.5" stroke="#000" stroke-width="2.8"/>
<line x1="532.58" y1="1475.6" x2="532.58" y2="1507.35" stroke="#000" stroke-width="2.8"/>
<line x1="551.05" y1="1244.7" x2="551.05" y2="1275.5" stroke="#000" stroke-width="2.8"/>
<line x1="551.05" y1="1475.6" x2="551.05" y2="1507.35" stroke="#000" stroke-width="2.8"/>
<line x1="568.69" y1="1244.7" x2="568.69" y2="1275.5" stroke="#000" stroke-width="2.8"/>
<line x1="568.69" y1="1475.6" x2="568.69" y2="1507.35" stroke="#000" stroke-width="2.8"/>
<line x1="585.59" y1="1244.7" x2="585.59" y2="1275.5" stroke="#000" stroke-width="2.8"/>
<line x1="585.59" y1="1475.6" x2="585.59" y2="1507.35" stroke="#000" stroke-width="2.8"/>
<line x1="601.79" y1="1244.7" x2="601.79" y2="1275.5" stroke="#000" stroke-width="2.8"/>
<line x1="601.79" y1="1475.6" x2="601.79" y2="1507.35" stroke="#000" stroke-width="2.8"/>
<line x1="617.36" y1="1244.7" x2="617.36" y2="1275.5" stroke="#000" stroke-width="2.8"/>
<line x1="617.36" y1="1475.6" x2="617.36" y2="1507.35" stroke="#000" stroke-width="2.8"/>
<line x1="632.34" y1="1244.7" x2="632.34" y2="1275.5" stroke="#000" stroke-width="2.8"/>
<line x1="632.34" y1="1475.6" x2="632.34" y2="1507.35" stroke="#000" stroke-width="2.8"/>
<line x1="122.6" y1="1287.29" x2="143.8" y2="1287.29" stroke="#000" stroke-width="2.8"/>
<line x1="625.5" y1="1287.29" x2="646.75" y2="1287.29" stroke="#000" stroke-width="2.8"/>
<line x1="122.6" y1="1310.97" x2="143.8" y2="1310.97" stroke="#000" stroke-width="2.8"/>
<line x1="625.5" y1="1310.97" x2="646.75" y2="1310.97" stroke="#000" stroke-width="2.8"/>
<line x1="122.6" y1="1327.78" x2="143.8" y2="1327.78" stroke="#000" stroke-width="2.8"/>
<line x1="625.5" y1="1327.78" x2="646.75" y2="1327.78" stroke="#000" stroke-width="2.8"/>
<line x1="122.6" y1="1340.81" x2="143.8" y2="1340.81" stroke="#000" stroke-width="2.8"/>
<line x1="625.5" y1="1340.81" x2="646.75" y2="1340.81" stroke="#000" stroke-width="2.8"/>
<line x1="122.6" y1="1351.46" x2="143.8" y2="1351.46" stroke="#000" stroke-width="2.8"/>
<line x1="625.5" y1="1351.46" x2="646.75" y2="1351.46" stroke="#000" stroke-width="2.8"/>
<line x1="122.6" y1="1360.47" x2="143.8" y2="1360.47" stroke="#000" stroke-width="2.8"/>
<line x1="625.5" y1="1360.47" x2="646.75" y2="1360.47" stroke="#000" stroke-width="2.8"/>
<line x1="122.6" y1="1368.27" x2="143.8" y2="1368.27" stroke="#000" stroke-width="2.8"/>
<line x1="625.5" y1="1368.27" x2="646.75" y2="1368.27" stroke="#000" stroke-width="2.8"/>
<line x1="122.6" y1="1375.15" x2="143.8" y2="1375.15" stroke="#000" stroke-width="2.8"/>
<line x1="625.5" y1="1375.15" x2="646.75" y2="1375.15" stroke="#000" stroke-width="2.8"/>
<line x1="122.6" y1="1381.3" x2="143.8" y2="1381.3" stroke="#000" stroke-width="2.8"/>
<line x1="625.5" y1="1381.3" x2="646.75" y2="1381.3" stroke="#000" stroke-width="2.8"/>
<line x1="122.6" y1="1421.79" x2="143.8" y2="1421.79" stroke="#000" stroke-width="2.8"/>
<line x1="625.5" y1="1421.79" x2="646.75" y2="1421.79" stroke="#000" stroke-width="2.8"/>
<line x1="122.6" y1="1445.47" x2="143.8" y2="1445.47" stroke="#000" stroke-width="2.8"/>
<line x1="625.5" y1="1445.47" x2="646.75" y2="1445.47" stroke="#000" stroke-width="2.8"/>
<line x1="122.6" y1="1462.28" x2="143.8" y2="1462.28" stroke="#000" stroke-width="2.8"/>
<line x1="625.5" y1="1462.28" x2="646.75" y2="1462.28" stroke="#000" stroke-width="2.8"/>
<line x1="122.6" y1="1475.31" x2="143.8" y2="1475.31" stroke="#000" stroke-width="2.8"/>
<line x1="625.5" y1="1475.31" x2="646.75" y2="1475.31" stroke="#000" stroke-width="2.8"/>
<line x1="122.6" y1="1485.96" x2="143.8" y2="1485.96" stroke="#000" stroke-width="2.8"/>
<line x1="625.5" y1="1485.96" x2="646.75" y2="1485.96" stroke="#000" stroke-width="2.8"/>
<line x1="122.6" y1="1494.97" x2="143.8" y2="1494.97" stroke="#000" stroke-width="2.8"/>
<line x1="625.5" y1="1494.97" x2="646.75" y2="1494.97" stroke="#000" stroke-width="2.8"/>
<rect x="70.8" y="1245.44" width="18.5" height="2.55" fill="#000"/>
<path d="M0.265 0L0.36 0L0.36 0.70L0.285 0.70C0.265 0.62 0.21 0.556 0.10 0.553L0.10 0.476L0.265 0.476Z" transform="translate(89.29 1255.9) scale(34 -34)" fill="#000"/>
<rect x="70.8" y="1312.94" width="18.5" height="2.55" fill="#000"/>
<text x="89.29" y="1323.4" font-size="34">3</text>
<rect x="51.89" y="1379.54" width="18.5" height="2.55" fill="#000"/>
<path d="M0.265 0L0.36 0L0.36 0.70L0.285 0.70C0.265 0.62 0.21 0.556 0.10 0.553L0.10 0.476L0.265 0.476Z" transform="translate(70.38 1390) scale(34 -34)" fill="#000"/>
<text x="89.29" y="1390" font-size="34">0</text>
<rect x="51.89" y="1445.54" width="18.5" height="2.55" fill="#000"/>
<text x="70.38" y="1456" font-size="34">30</text>
<text x="130.59" y="1548.7" font-size="34">40</text>
<text x="291.54" y="1548.7" font-size="34">60</text>
<text x="405.73" y="1548.7" font-size="34">80</text>
<path d="M0.265 0L0.36 0L0.36 0.70L0.285 0.70C0.265 0.62 0.21 0.556 0.10 0.553L0.10 0.476L0.265 0.476Z" transform="translate(484.85 1548.7) scale(34 -34)" fill="#000"/>
<text x="503.76" y="1548.7" font-size="34">00</text>
<path d="M0.265 0L0.36 0L0.36 0.70L0.285 0.70C0.265 0.62 0.21 0.556 0.10 0.553L0.10 0.476L0.265 0.476Z" transform="translate(557.23 1548.7) scale(34 -34)" fill="#000"/>
<text x="576.13" y="1548.7" font-size="34">20</text>
<path d="M0.265 0L0.36 0L0.36 0.70L0.285 0.70C0.265 0.62 0.21 0.556 0.10 0.553L0.10 0.476L0.265 0.476Z" transform="translate(618.41 1548.7) scale(34 -34)" fill="#000"/>
<text x="637.32" y="1548.7" font-size="34">40</text>
<text x="385.3" y="1593.3" font-size="33.3" text-anchor="middle">Field (mT)</text>
<text transform="translate(28.2,1375.6) rotate(-90)" font-size="33" text-anchor="middle"><tspan font-style="italic">a</tspan> (pJ)</text>
<text x="-1.5" y="1239.5" font-size="41" font-weight="bold">c</text>
<rect x="166.15" y="1466.75" width="22.5" height="22.5" fill="#fff"/>
<rect x="168.15" y="1468.75" width="18.5" height="18.5" fill="#0000ff"/>
<rect x="165.9" y="1506.1" width="22.6" height="2.6" fill="#0000ff"/>
<rect x="335.1" y="1356.3" width="22.4" height="22.4" fill="#fff"/>
<rect x="337.1" y="1358.3" width="18.4" height="18.4" fill="#0000ff"/>
<rect x="335.05" y="1412.3" width="22.6" height="22.6" fill="#fff"/>
<rect x="337.05" y="1414.3" width="18.6" height="18.6" fill="#0000ff"/>
<rect x="609.5" y="1295.4" width="22.5" height="22.5" fill="#fff"/>
<rect x="611.5" y="1297.4" width="18.5" height="18.5" fill="#0000ff"/>
<rect x="604.1" y="1308.1" width="22.5" height="22.5" fill="#fff"/>
<rect x="606.1" y="1310.1" width="18.5" height="18.5" fill="#0000ff"/>
<line x1="126.2" y1="1457.83" x2="643.4" y2="1305.9" stroke="#000" stroke-width="2.4" stroke-dasharray="28.14 16.68" stroke-dashoffset="4.59"/>
<rect x="345" y="1332.5" width="2.8" height="56.9" fill="#0000ff"/>
<rect x="335" y="1331.2" width="22.9" height="2.6" fill="#0000ff"/>
<rect x="335.05" y="1388.1" width="22.65" height="2.6" fill="#0000ff"/>
<circle cx="177.2" cy="1484.1" r="12.3" fill="#fff"/>
<circle cx="177.2" cy="1484.1" r="10.3" fill="#000"/>
<rect x="166.2" y="1471.5" width="22.7" height="2.6" fill="#000"/>
<rect x="166.2" y="1490.5" width="22.7" height="3" fill="#000"/>
<circle cx="346.3" cy="1375.5" r="12.3" fill="#fff"/>
<circle cx="346.3" cy="1375.5" r="10.3" fill="#000"/>
<circle cx="346.2" cy="1408.4" r="12.4" fill="#fff"/>
<circle cx="346.2" cy="1408.4" r="10.4" fill="#000"/>
<circle cx="620.6" cy="1322.9" r="12.4" fill="#fff"/>
<circle cx="620.6" cy="1322.9" r="10.4" fill="#000"/>
<circle cx="615.6" cy="1361.5" r="12.4" fill="#fff"/>
<circle cx="615.6" cy="1361.5" r="10.4" fill="#000"/>
<polygon points="177.2,1437.3 188.5,1456.9 165.9,1456.9" fill="#fff" stroke="#fff" stroke-width="4" stroke-linejoin="miter"/>
<polygon points="177.2,1437.3 188.5,1456.9 165.9,1456.9" fill="#ff0000"/>
<rect x="175.75" y="1426.1" width="2.9" height="40.3" fill="#ff0000"/>
<rect x="165.9" y="1424.8" width="22.6" height="2.6" fill="#ff0000"/>
<rect x="165.9" y="1465.1" width="22.6" height="2.6" fill="#ff0000"/>
<polygon points="346.25,1365.4 357.45,1384.8 335.05,1384.8" fill="#fff" stroke="#fff" stroke-width="4" stroke-linejoin="miter"/>
<polygon points="346.25,1365.4 357.45,1384.8 335.05,1384.8" fill="#ff0000"/>
<polygon points="346.25,1431.2 357.5,1450.9 335,1450.9" fill="#fff" stroke="#fff" stroke-width="4" stroke-linejoin="miter"/>
<polygon points="346.25,1431.2 357.5,1450.9 335,1450.9" fill="#ff0000"/>
<polygon points="615.4,1312.9 626.8,1332.6 604,1332.6" fill="#fff" stroke="#fff" stroke-width="4" stroke-linejoin="miter"/>
<polygon points="615.4,1312.9 626.8,1332.6 604,1332.6" fill="#ff0000"/>
<rect x="613.7" y="1334.2" width="2.8" height="45.2" fill="#000"/>
<rect x="604" y="1332.9" width="22.3" height="2.6" fill="#000"/>
<rect x="604" y="1378.1" width="22.3" height="2.6" fill="#000"/>
<polygon points="620.65,1275.1 632,1294.7 609.3,1294.7" fill="#fff" stroke="#fff" stroke-width="4" stroke-linejoin="miter"/>
<polygon points="620.65,1275.1 632,1294.7 609.3,1294.7" fill="#ff0000"/>
<rect x="619.2" y="1246.25" width="2.8" height="64.45" fill="#ff0000"/>
<rect x="609.1" y="1244.95" width="22.9" height="2.6" fill="#ff0000"/>
<rect x="609" y="1309.4" width="22.8" height="2.6" fill="#ff0000"/>
<polygon points="620.8,1342.2 632.1,1361.6 609.5,1361.6" fill="#fff" stroke="#fff" stroke-width="4" stroke-linejoin="miter"/>
<polygon points="620.8,1342.2 632.1,1361.6 609.5,1361.6" fill="#ff0000"/>
<rect x="818.9" y="1238.2" width="522.8" height="269.7" fill="none" stroke="#000" stroke-width="7.3"/>
<line x1="843.5" y1="1238.2" x2="843.5" y2="1266.4" stroke="#000" stroke-width="2.8"/>
<line x1="843.5" y1="1480.6" x2="843.5" y2="1507.9" stroke="#000" stroke-width="2.8"/>
<line x1="937.5" y1="1238.2" x2="937.5" y2="1266.4" stroke="#000" stroke-width="2.8"/>
<line x1="937.5" y1="1480.6" x2="937.5" y2="1507.9" stroke="#000" stroke-width="2.8"/>
<line x1="1031.5" y1="1238.2" x2="1031.5" y2="1266.4" stroke="#000" stroke-width="2.8"/>
<line x1="1031.5" y1="1480.6" x2="1031.5" y2="1507.9" stroke="#000" stroke-width="2.8"/>
<line x1="1125.5" y1="1238.2" x2="1125.5" y2="1266.4" stroke="#000" stroke-width="2.8"/>
<line x1="1125.5" y1="1480.6" x2="1125.5" y2="1507.9" stroke="#000" stroke-width="2.8"/>
<line x1="1219.5" y1="1238.2" x2="1219.5" y2="1266.4" stroke="#000" stroke-width="2.8"/>
<line x1="1219.5" y1="1480.6" x2="1219.5" y2="1507.9" stroke="#000" stroke-width="2.8"/>
<line x1="1313.5" y1="1238.2" x2="1313.5" y2="1266.4" stroke="#000" stroke-width="2.8"/>
<line x1="1313.5" y1="1480.6" x2="1313.5" y2="1507.9" stroke="#000" stroke-width="2.8"/>
<line x1="818.9" y1="1279.3" x2="845.5" y2="1279.3" stroke="#000" stroke-width="2.8"/>
<line x1="1314.4" y1="1279.3" x2="1341.7" y2="1279.3" stroke="#000" stroke-width="2.8"/>
<line x1="818.9" y1="1324.2" x2="845.5" y2="1324.2" stroke="#000" stroke-width="2.8"/>
<line x1="1314.4" y1="1324.2" x2="1341.7" y2="1324.2" stroke="#000" stroke-width="2.8"/>
<line x1="818.9" y1="1369" x2="845.5" y2="1369" stroke="#000" stroke-width="2.8"/>
<line x1="1314.4" y1="1369" x2="1341.7" y2="1369" stroke="#000" stroke-width="2.8"/>
<line x1="818.9" y1="1414" x2="845.5" y2="1414" stroke="#000" stroke-width="2.8"/>
<line x1="1314.4" y1="1414" x2="1341.7" y2="1414" stroke="#000" stroke-width="2.8"/>
<line x1="818.9" y1="1458.8" x2="845.5" y2="1458.8" stroke="#000" stroke-width="2.8"/>
<line x1="1314.4" y1="1458.8" x2="1341.7" y2="1458.8" stroke="#000" stroke-width="2.8"/>
<path d="M0.265 0L0.36 0L0.36 0.70L0.285 0.70C0.265 0.62 0.21 0.556 0.10 0.553L0.10 0.476L0.265 0.476Z" transform="translate(756.74 1249.8) scale(34 -34)" fill="#000"/>
<text x="775.64" y="1249.8" font-size="34">.2</text>
<path d="M0.265 0L0.36 0L0.36 0.70L0.285 0.70C0.265 0.62 0.21 0.556 0.10 0.553L0.10 0.476L0.265 0.476Z" transform="translate(756.74 1337) scale(34 -34)" fill="#000"/>
<text x="775.64" y="1337" font-size="34">.0</text>
<text x="756.74" y="1424.3" font-size="34">0.6</text>
<text x="756.74" y="1518.2" font-size="34">0.4</text>
<text x="824.59" y="1547.9" font-size="34">40</text>
<text x="918.59" y="1547.9" font-size="34">60</text>
<text x="1012.59" y="1547.9" font-size="34">80</text>
<path d="M0.265 0L0.36 0L0.36 0.70L0.285 0.70C0.265 0.62 0.21 0.556 0.10 0.553L0.10 0.476L0.265 0.476Z" transform="translate(1097.14 1547.9) scale(34 -34)" fill="#000"/>
<text x="1116.05" y="1547.9" font-size="34">00</text>
<path d="M0.265 0L0.36 0L0.36 0.70L0.285 0.70C0.265 0.62 0.21 0.556 0.10 0.553L0.10 0.476L0.265 0.476Z" transform="translate(1191.14 1547.9) scale(34 -34)" fill="#000"/>
<text x="1210.05" y="1547.9" font-size="34">20</text>
<path d="M0.265 0L0.36 0L0.36 0.70L0.285 0.70C0.265 0.62 0.21 0.556 0.10 0.553L0.10 0.476L0.265 0.476Z" transform="translate(1285.14 1547.9) scale(34 -34)" fill="#000"/>
<text x="1304.05" y="1547.9" font-size="34">40</text>
<text x="1080.3" y="1593.3" font-size="33.3" text-anchor="middle">Field (mT)</text>
<text transform="translate(733.9,1372.6) rotate(-90)" font-size="33" text-anchor="middle"><tspan font-style="italic">b</tspan> (pJ)</text>
<text x="704.3" y="1239.5" font-size="41" font-weight="bold">d</text>
<rect x="856.1" y="1259.5" width="3" height="62.9" fill="#000"/>
<rect x="850.23" y="1258.2" width="14.75" height="2.6" fill="#000"/>
<rect x="850.23" y="1321.1" width="14.75" height="2.6" fill="#000"/>
<circle cx="857.6" cy="1289.4" r="10.8" fill="#000"/>
<rect x="963.7" y="1257.7" width="2.8" height="131.9" fill="#000"/>
<rect x="963.7" y="1446.5" width="2.8" height="32.8" fill="#000"/>
<rect x="955.8" y="1256.4" width="18.7" height="2.6" fill="#000"/>
<rect x="955.6" y="1478" width="19" height="2.6" fill="#000"/>
<circle cx="965.1" cy="1367.4" r="10.9" fill="#000"/>
<rect x="963.7" y="1396.5" width="2.8" height="43.95" fill="#000"/>
<rect x="955.5" y="1395.2" width="19.2" height="2.6" fill="#000"/>
<rect x="955.5" y="1439.15" width="19.2" height="2.6" fill="#000"/>
<circle cx="965.1" cy="1418.8" r="10.9" fill="#000"/>
<rect x="1264.4" y="1259.4" width="2.8" height="63.1" fill="#000"/>
<rect x="1257.15" y="1258.1" width="17.3" height="2.6" fill="#000"/>
<rect x="1257.15" y="1321.2" width="17.3" height="2.6" fill="#000"/>
<circle cx="1265.8" cy="1289.15" r="10.8" fill="#000"/>
<rect x="1269.8" y="1289.5" width="8.2" height="37.25" fill="#fff"/>
<rect x="1262.3" y="1285.3" width="23.2" height="8.4" fill="#fff"/>
<rect x="1262.3" y="1322.55" width="23.2" height="8.4" fill="#fff"/>
<circle cx="1273.9" cy="1309.9" r="13.2" fill="#fff"/>
<rect x="1272.7" y="1289.5" width="2.4" height="37.25" fill="#000"/>
<rect x="1265.2" y="1288.2" width="17.4" height="2.6" fill="#000"/>
<rect x="1265.2" y="1325.45" width="17.4" height="2.6" fill="#000"/>
<circle cx="1273.9" cy="1309.9" r="11" fill="#000"/>
<rect x="1272.6" y="1432.4" width="2.8" height="63.9" fill="#000"/>
<rect x="1265.25" y="1431.1" width="17.5" height="2.6" fill="#000"/>
<rect x="1265.25" y="1495" width="17.5" height="2.6" fill="#000"/>
<circle cx="1274" cy="1463.3" r="10.9" fill="#000"/>
</svg>
</body></html>
